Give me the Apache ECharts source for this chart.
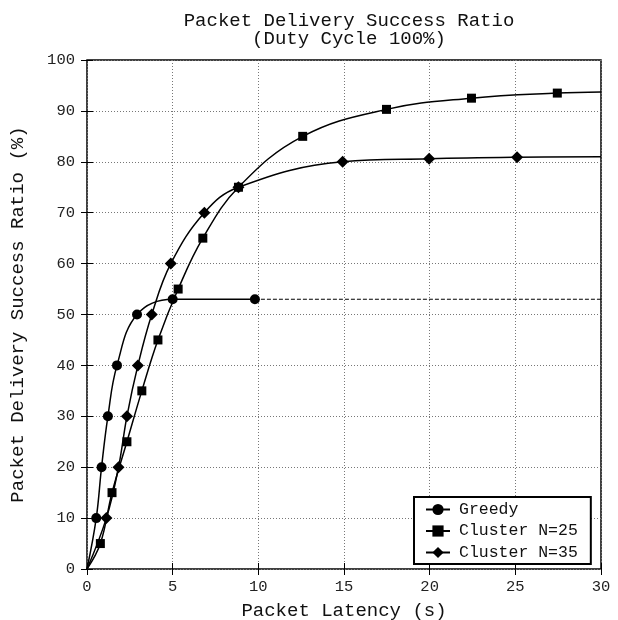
<!DOCTYPE html>
<html>
<head>
<meta charset="utf-8">
<script src="https://cdn.jsdelivr.net/npm/echarts@6/dist/echarts.min.js"></script>
<style>
html,body{margin:0;padding:0;background:#fff;}
#chart{width:618px;height:620px;}
</style>
</head>
<body>
<div id="chart"></div>
<script>
// Values
const greedyX = [0.54, 0.85, 1.22, 1.75, 2.92, 5.0, 9.8];
const greedyY = [10, 20, 30, 40, 50, 53, 53];
const greedyTailX = [9.8, 30];
const greedyTailY = [53, 53];

const c25X = [0.78, 1.46, 2.33, 3.2, 4.14, 5.32, 6.76, 8.84, 12.59, 17.48, 22.44, 27.45];
const c25Y = [5, 15, 25, 35, 45, 55, 65, 75, 85, 90.3, 92.5, 93.5];
const c25EndX = 30, c25EndY = 93.7;

const c35X = [1.13, 1.84, 2.33, 2.97, 3.78, 4.89, 6.85, 8.84, 14.92, 19.97, 25.1];
const c35Y = [10, 20, 30, 40, 50, 60, 70, 75, 80, 80.6, 80.9];
const c35EndX = 30, c35EndY = 81;

const originX = 0, originY = 0;

const xTicks = {min: 0, max: 30, interval: 5};
const yTicks = {min: 0, max: 100, interval: 10};

const FONT = '"Liberation Mono", "DejaVu Sans Mono", monospace';

function build(xs, ys, endX, endY) {
  const d = [{value: [originX, originY], symbol: 'none'}];
  xs.forEach((x, i) => d.push([x, ys[i]]));
  if (endX !== undefined) d.push({value: [endX, endY], symbol: 'none'});
  return d;
}

const chart = echarts.init(document.getElementById('chart'), null, {renderer: 'canvas'});

const axisCommon = {
  type: 'value',
  axisLine: {show: false},
  axisTick: {show: true, inside: true, length: 6, lineStyle: {color: '#000', width: 1}},
  splitLine: {show: false}
};

const option = {
  backgroundColor: '#fff',
  animation: false,
  title: {
    text: 'Packet Delivery Success Ratio\n(Duty Cycle 100%)',
    left: 344, top: 7, textAlign: 'center',
    textStyle: {fontFamily: FONT, fontSize: 19, fontWeight: 'normal', color: '#111', lineHeight: 18}
  },
  grid: {left: 87, right: 17, top: 60, bottom: 51, show: true, borderColor: '#000', borderWidth: 1.5,
         backgroundColor: 'transparent', containLabel: false, outerBoundsMode: 'none'},
  legend: {
    orient: 'vertical',
    left: 414, top: 497,
    data: ['Greedy', 'Cluster N=25', 'Cluster N=35'],
    padding: [4, 13, 3, 11],
    itemWidth: 24, itemHeight: 14, itemGap: 4.5,
    borderColor: '#000', borderWidth: 2,
    backgroundColor: '#fff',
    textStyle: {fontFamily: FONT, fontSize: 16.5, color: '#111', padding: [0, 0, 0, 4]}
  },
  xAxis: [
    Object.assign({}, axisCommon, {
      min: xTicks.min, max: xTicks.max, interval: xTicks.interval, position: 'bottom',
      name: 'Packet Latency (s)', nameLocation: 'middle', nameGap: 32,
      nameTextStyle: {fontFamily: FONT, fontSize: 19, color: '#111'},
      axisLabel: {fontFamily: FONT, fontSize: 15.5, color: '#222', margin: 10},
      splitLine: {show: true, lineStyle: {color: '#777', width: 1, type: [1, 2]}}
    }),
    Object.assign({}, axisCommon, {
      min: xTicks.min, max: xTicks.max, interval: xTicks.interval, position: 'top',
      axisLabel: {show: false}
    })
  ],
  yAxis: [
    Object.assign({}, axisCommon, {
      min: yTicks.min, max: yTicks.max, interval: yTicks.interval, position: 'left',
      name: 'Packet Delivery Success Ratio (%)', nameLocation: 'middle', nameGap: 60,
      nameTextStyle: {fontFamily: FONT, fontSize: 19, color: '#111'},
      axisLabel: {fontFamily: FONT, fontSize: 15.5, color: '#222', margin: 12},
      splitLine: {show: true, lineStyle: {color: '#777', width: 1, type: [1, 2]}}
    }),
    Object.assign({}, axisCommon, {
      min: yTicks.min, max: yTicks.max, interval: yTicks.interval, position: 'right',
      axisLabel: {show: false}
    })
  ],
  series: [
    {
      name: 'Greedy', type: 'line', smooth: 0.4,
      symbol: 'circle', symbolSize: 10,
      itemStyle: {color: '#000'}, lineStyle: {color: '#000', width: 1.5},
      data: build(greedyX, greedyY), z: 3
    },
    {
      name: 'GreedyTail', type: 'line', symbol: 'none',
      lineStyle: {color: '#000', width: 1.2, type: [4, 2]},
      data: greedyTailX.map((x, i) => [x, greedyTailY[i]]), z: 2
    },
    {
      name: 'Cluster N=25', type: 'line', smooth: 0.4,
      symbol: 'rect', symbolSize: 9,
      itemStyle: {color: '#000'}, lineStyle: {color: '#000', width: 1.5},
      data: build(c25X, c25Y, c25EndX, c25EndY), z: 3
    },
    {
      name: 'Cluster N=35', type: 'line', smooth: 0.4,
      symbol: 'diamond', symbolSize: 12,
      itemStyle: {color: '#000'}, lineStyle: {color: '#000', width: 1.5},
      data: build(c35X, c35Y, c35EndX, c35EndY), z: 3
    }
  ]
};
chart.setOption(option);
</script>
</body>
</html>
